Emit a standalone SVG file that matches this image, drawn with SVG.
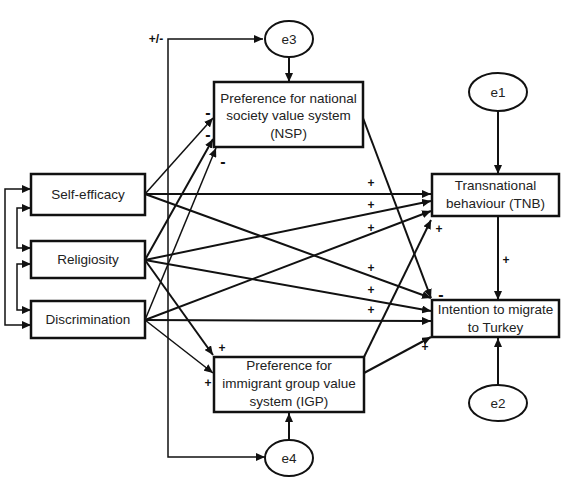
<svg xmlns="http://www.w3.org/2000/svg" width="568" height="486" viewBox="0 0 568 486">
<style>
.box{fill:#fff;stroke:#111;stroke-width:2.5}
.ell{fill:#fff;stroke:#111;stroke-width:2}
.t{font-family:"Liberation Sans",Arial,sans-serif;font-size:13.5px;fill:#222;text-anchor:middle}
.s{font-family:"Liberation Sans",Arial,sans-serif;font-size:12px;font-weight:bold;fill:#111;text-anchor:middle}
.m{font-family:"Liberation Sans",Arial,sans-serif;font-size:16px;font-weight:bold;fill:#111;text-anchor:middle}
.c{fill:none;stroke:#111;stroke-width:2;marker-end:url(#ah)}
.thin{stroke-width:1.5}
.cor{fill:none;stroke:#111;stroke-width:1.5;marker-start:url(#ahs);marker-end:url(#ah)}
</style>
<defs>
<marker id="ah" markerUnits="userSpaceOnUse" markerWidth="9" markerHeight="8" refX="9" refY="4" orient="auto">
<path d="M0,0 L9,4 L0,8 Z" fill="#111"/>
</marker>
<marker id="ahs" markerUnits="userSpaceOnUse" markerWidth="9" markerHeight="8" refX="0" refY="4" orient="auto">
<path d="M9,0 L0,4 L9,8 Z" fill="#111"/>
</marker>
</defs>
<g id="connectors">
<path class="cor" d="M31,189 H5 V325 H31"/>
<path class="cor" d="M31,208 H17 V248 H31"/>
<path class="cor" d="M31,264 H17 V310 H31"/>
<path class="cor" d="M263,39 H168 V457 H265"/>
<path class="c" d="M289,57 V82"/>
<path class="c" d="M498,111 V174"/>
<path class="c" d="M498,216 V300"/>
<path class="c" d="M498,385 V338"/>
<path class="c" d="M289,440 V413"/>
<path class="c thin" d="M145,194 L213,118"/>
<path class="c" d="M145,260 L213,139"/>
<path class="c thin" d="M145,320 L216,148"/>
<path class="c" d="M145,260 L213,355"/>
<path class="c thin" d="M145,320 L213,373"/>
<path class="c" d="M145,194 L431,194"/>
<path class="c" d="M145,260 L431,201"/>
<path class="c" d="M145,320 L431,211"/>
<path class="c" d="M145,194 L431,298"/>
<path class="c" d="M145,260 L431,311"/>
<path class="c" d="M145,320 L431,321"/>
<path class="c" d="M364,357 L431,220"/>
<path class="c" d="M364,373 L431,337"/>
<path class="c" d="M363,118 L431,298"/>
</g>
<g id="labels">
<text class="s" x="156" y="43">+/-</text>
<text class="m" x="208" y="118">-</text>
<text class="m" x="208" y="140">-</text>
<text class="m" x="223" y="167">-</text>
<text class="s" x="222" y="352">+</text>
<text class="s" x="208" y="387">+</text>
<text class="s" x="371" y="187">+</text>
<text class="s" x="371" y="209">+</text>
<text class="s" x="371" y="232">+</text>
<text class="s" x="439" y="233">+</text>
<text class="s" x="371" y="272">+</text>
<text class="s" x="371" y="294">+</text>
<text class="s" x="371" y="314">+</text>
<text class="m" x="441" y="300">-</text>
<text class="s" x="506" y="264">+</text>
<text class="s" x="425" y="351">+</text>
</g>
<g id="self-efficacy"><rect class="box" x="31" y="174" width="114" height="41"/><text class="t" x="88" y="199">Self-efficacy</text></g>
<g id="religiosity"><rect class="box" x="31" y="241" width="114" height="37"/><text class="t" x="88" y="264">Religiosity</text></g>
<g id="discrimination"><rect class="box" x="31" y="301" width="114" height="37"/><text class="t" x="88" y="324">Discrimination</text></g>
<g id="nsp"><rect class="box" x="214" y="82" width="149" height="65"/><text class="t" x="288.5" y="103">Preference for national</text><text class="t" x="288.5" y="120">society value system</text><text class="t" x="288.5" y="138">(NSP)</text></g>
<g id="igp"><rect class="box" x="214" y="357" width="150" height="55"/><text class="t" x="289" y="370">Preference for</text><text class="t" x="289" y="388">immigrant group value</text><text class="t" x="289" y="406">system (IGP)</text></g>
<g id="tnb"><rect class="box" x="432" y="174" width="127" height="42"/><text class="t" x="495.5" y="190">Transnational</text><text class="t" x="495.5" y="208">behaviour (TNB)</text></g>
<g id="intention"><rect class="box" x="432" y="300" width="127" height="37"/><text class="t" x="495.5" y="314">Intention to migrate</text><text class="t" x="495.5" y="332">to Turkey</text></g>
<g id="e3"><ellipse class="ell" cx="289" cy="39" rx="24" ry="18"/><text class="t" x="289" y="44">e3</text></g>
<g id="e1"><ellipse class="ell" cx="498" cy="92" rx="29" ry="19"/><text class="t" x="498" y="97">e1</text></g>
<g id="e2"><ellipse class="ell" cx="498" cy="403" rx="29" ry="18"/><text class="t" x="498" y="408">e2</text></g>
<g id="e4"><ellipse class="ell" cx="289" cy="458" rx="24" ry="18"/><text class="t" x="289" y="463">e4</text></g>
</svg>
